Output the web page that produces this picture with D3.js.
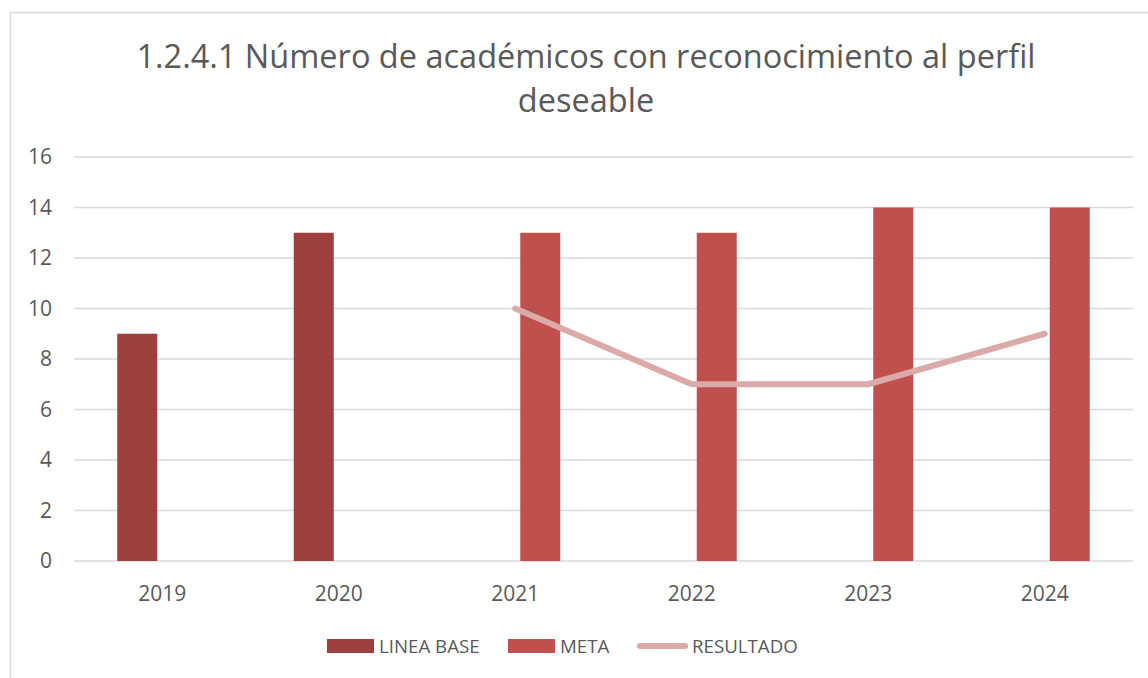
<!DOCTYPE html>
<html>
<head>
<meta charset="utf-8">
<script src="https://cdn.jsdelivr.net/npm/d3@7"></script>
<style>
  body { margin: 0; background: #fff; }
  text { font-family: "Open Sans", sans-serif; fill: #595959; }
</style>
</head>
<body>
<svg width="1148" height="678"></svg>
<script>
const years = ["2019", "2020", "2021", "2022", "2023", "2024"];
const lineaBase = [9, 13, null, null, null, null];
const meta = [null, null, 13, 13, 14, 14];
const resultado = [null, null, 10, 7, 7, 9];
const yTicks = [0, 2, 4, 6, 8, 10, 12, 14, 16];
const titleLines = ["1.2.4.1 Número de académicos con reconocimiento al perfil", "deseable"];

const colors = { base: "#9c3f3d", meta: "#c0504d", res: "#dba9a8" };

const svg = d3.select("svg");

// chart frame
svg.append("rect")
    .attr("x", 10.5).attr("y", 12.5)
    .attr("width", 1200).attr("height", 700)
    .attr("fill", "none").attr("stroke", "#d9d9d9").attr("stroke-width", 1.5);

const x0 = d3.scaleBand().domain(years).range([74, 1133]).padding(0);
const x1 = d3.scaleBand().domain(["base", "meta"])
    .range([x0.bandwidth() / 2 - 45, x0.bandwidth() / 2 + 45])
    .paddingInner(0.2);
const y = d3.scaleLinear().domain([0, 16]).range([561, 157]);

// grid
svg.append("g")
  .selectAll("line")
  .data(yTicks)
  .join("line")
    .attr("x1", 74).attr("x2", 1133)
    .attr("y1", d => y(d)).attr("y2", d => y(d))
    .attr("stroke", "#d9d9d9").attr("stroke-width", 1.5);

// y labels
svg.append("g")
  .selectAll("text")
  .data(yTicks)
  .join("text")
    .attr("x", 52).attr("y", d => y(d))
    .attr("dy", "0.35em")
    .attr("text-anchor", "end")
    .style("font-size", "21px")
    .text(d => d);

// x labels
svg.append("g")
  .selectAll("text")
  .data(years)
  .join("text")
    .attr("x", d => x0(d) + x0.bandwidth() / 2)
    .attr("y", 601)
    .attr("text-anchor", "middle")
    .style("font-size", "21px")
    .text(d => d);

// bars
const bars = [];
years.forEach((yr, i) => {
  if (lineaBase[i] != null) bars.push({ yr, key: "base", v: lineaBase[i] });
  if (meta[i] != null) bars.push({ yr, key: "meta", v: meta[i] });
});

svg.append("g")
  .selectAll("rect")
  .data(bars)
  .join("rect")
    .attr("x", d => x0(d.yr) + x1(d.key))
    .attr("width", x1.bandwidth())
    .attr("y", d => y(d.v))
    .attr("height", d => y(0) - y(d.v))
    .attr("fill", d => colors[d.key]);

// resultado line
const pts = years.map((yr, i) => ({ yr, v: resultado[i] })).filter(d => d.v != null);
svg.append("path")
    .datum(pts)
    .attr("fill", "none")
    .attr("stroke", colors.res)
    .attr("stroke-width", 6)
    .attr("stroke-linecap", "round")
    .attr("stroke-linejoin", "round")
    .attr("d", d3.line()
        .x(d => x0(d.yr) + x0.bandwidth() / 2)
        .y(d => y(d.v)));

// title
svg.append("g")
  .selectAll("text")
  .data(titleLines)
  .join("text")
    .attr("x", 586)
    .attr("y", (d, i) => 68 + i * 44)
    .attr("text-anchor", "middle")
    .style("font-size", "32.5px")
    .text(d => d);

// legend
const legend = svg.append("g");
legend.append("rect").attr("x", 327).attr("y", 639).attr("width", 47).attr("height", 14).attr("fill", colors.base);
legend.append("text").attr("x", 379).attr("y", 653).style("font-size", "18.7px").text("LINEA BASE");
legend.append("rect").attr("x", 508).attr("y", 639).attr("width", 47).attr("height", 14).attr("fill", colors.meta);
legend.append("text").attr("x", 560).attr("y", 653).style("font-size", "18.7px").text("META");
legend.append("line").attr("x1", 640).attr("x2", 685).attr("y1", 646).attr("y2", 646)
    .attr("stroke", colors.res).attr("stroke-width", 6).attr("stroke-linecap", "round");
legend.append("text").attr("x", 692).attr("y", 653).style("font-size", "18.7px").text("RESULTADO");
</script>
</body>
</html>
